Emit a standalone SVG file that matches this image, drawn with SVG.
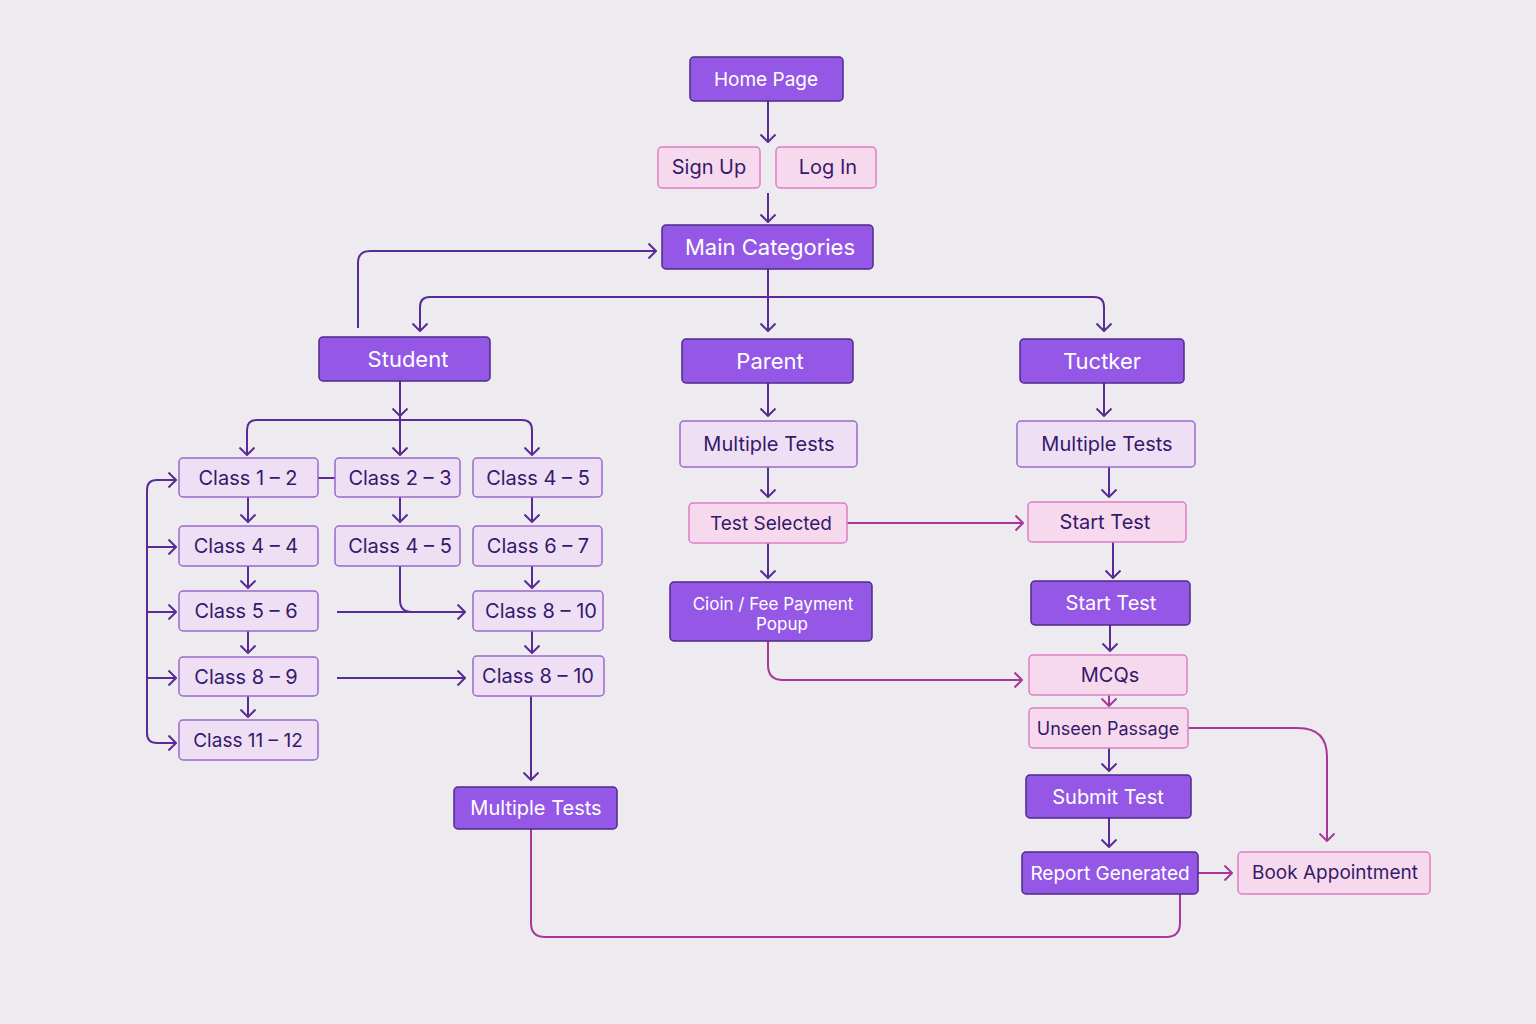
<svg xmlns="http://www.w3.org/2000/svg" width="1536" height="1024" viewBox="0 0 1536 1024">
<defs>
<marker id="ad" viewBox="0 0 9 16" refX="8" refY="8" markerWidth="9" markerHeight="16" markerUnits="userSpaceOnUse" orient="auto"><path d="M0.5,0.5 L8,8 L0.5,15.5" fill="none" stroke="#5a2a96" stroke-width="2"/></marker>
<marker id="ap" viewBox="0 0 9 16" refX="8" refY="8" markerWidth="9" markerHeight="16" markerUnits="userSpaceOnUse" orient="auto"><path d="M0.5,0.5 L8,8 L0.5,15.5" fill="none" stroke="#a8379a" stroke-width="2"/></marker>
</defs>
<style>
.dark rect{fill:#9558e6;stroke:#4f2a8a;stroke-width:1.5}
.light rect{fill:#eedff5;stroke:#9a6acc;stroke-width:1.5}
.pink rect{fill:#f7d9ee;stroke:#de7dc4;stroke-width:1.5}
text{font-family:Inter,"Noto Sans","Liberation Sans",sans-serif;text-anchor:middle;dominant-baseline:central}
.dark text{fill:#ffffff}
.light text,.pink text{fill:#35196b}
.cd{fill:none;stroke:#5a2a96;stroke-width:2;marker-end:url(#ad)}
.cp{fill:none;stroke:#a8379a;stroke-width:2;marker-end:url(#ap)}
.ln{fill:none;stroke:#5a2a96;stroke-width:2}
.lp{fill:none;stroke:#a8379a;stroke-width:2}
</style>
<rect width="1536" height="1024" fill="#eeebf0"/>

<g id="connectors">
<path class="cd" d="M768,101 V142"/>
<path class="cd" d="M768,193 V222"/>
<path class="cd" d="M358,328 V263 Q358,251 370,251 H656"/>
<path class="cd" d="M768,269 V331"/>
<path class="cd" d="M768,297 H1094 Q1104,297 1104,307 V331"/>
<path class="cd" d="M768,297 H430 Q420,297 420,307 V331"/>
<path class="cd" d="M400,381 V416"/>
<path class="cd" d="M400,420 H257 Q247,420 247,430 V455"/>
<path class="cd" d="M400,420 H522 Q532,420 532,430 V455"/>
<path class="cd" d="M400,416 V455"/>
<path class="ln" d="M318,478 H335"/>
<path class="cd" d="M248,497 V522"/>
<path class="cd" d="M248,566 V588"/>
<path class="cd" d="M248,631 V653"/>
<path class="cd" d="M248,696 V717"/>
<path class="cd" d="M400,497 V522"/>
<path class="cd" d="M532,497 V522"/>
<path class="cd" d="M532,566 V588"/>
<path class="cd" d="M532,631 V653"/>
<path class="cd" d="M147,620 V490 Q147,480 157,480 H176"/>
<path class="cd" d="M147,600 V733 Q147,743 157,743 H176"/>
<path class="cd" d="M147,547 H176"/>
<path class="cd" d="M147,612 H176"/>
<path class="cd" d="M147,678 H176"/>
<path class="cd" d="M337,612 H465"/>
<path class="ln" d="M400,566 V600 Q400,612 412,612 H440"/>
<path class="cd" d="M337,678 H465"/>
<path class="cd" d="M531,696 V780"/>
<path class="lp" d="M531,829 V923 Q531,937 545,937 H1166 Q1180,937 1180,923 V894"/>
<path class="cd" d="M768,383 V416"/>
<path class="cd" d="M768,467 V497"/>
<path class="cd" d="M768,543 V578"/>
<path class="cp" d="M847,523 H1023"/>
<path class="cp" d="M768,641 V665 Q768,680 783,680 H1022"/>
<path class="cd" d="M1104,383 V416"/>
<path class="cd" d="M1109,467 V497"/>
<path class="cd" d="M1113,542 V578"/>
<path class="cd" d="M1110,625 V651"/>
<path class="cp" d="M1109,695 V706"/>
<path class="cd" d="M1109,748 V771"/>
<path class="cd" d="M1109,818 V847"/>
<path class="cp" d="M1198,873 H1232"/>
<path class="cp" d="M1188,728 H1298 Q1327,728 1327,757 V841"/>
</g>

<g id="home" class="dark"><rect x="690" y="57" width="153" height="44" rx="4"/><text x="766" y="79" font-size="19">Home Page</text></g>
<g id="signup" class="pink"><rect x="658" y="147" width="102" height="41" rx="4"/><text x="709" y="167" font-size="20">Sign Up</text></g>
<g id="login" class="pink"><rect x="776" y="147" width="100" height="41" rx="4"/><text x="828" y="167" font-size="20">Log In</text></g>
<g id="main" class="dark"><rect x="662" y="225" width="211" height="44" rx="4"/><text x="770" y="247" font-size="22">Main Categories</text></g>
<g id="student" class="dark"><rect x="319" y="337" width="171" height="44" rx="4"/><text x="408" y="359" font-size="22">Student</text></g>
<g id="parent" class="dark"><rect x="682" y="339" width="171" height="44" rx="4"/><text x="770" y="361" font-size="22">Parent</text></g>
<g id="tuctker" class="dark"><rect x="1020" y="339" width="164" height="44" rx="4"/><text x="1102" y="361" font-size="22">Tuctker</text></g>

<g id="c12" class="light"><rect x="179" y="458" width="139" height="39" rx="4"/><text x="248" y="478" font-size="20">Class 1 – 2</text></g>
<g id="c23" class="light"><rect x="335" y="458" width="125" height="39" rx="4"/><text x="400" y="478" font-size="20">Class 2 – 3</text></g>
<g id="c45a" class="light"><rect x="473" y="458" width="129" height="39" rx="4"/><text x="538" y="478" font-size="20">Class 4 – 5</text></g>
<g id="c44" class="light"><rect x="179" y="526" width="139" height="40" rx="4"/><text x="246" y="546" font-size="20">Class 4 – 4</text></g>
<g id="c45b" class="light"><rect x="335" y="526" width="125" height="40" rx="4"/><text x="400" y="546" font-size="20">Class 4 – 5</text></g>
<g id="c67" class="light"><rect x="473" y="526" width="129" height="40" rx="4"/><text x="538" y="546" font-size="20">Class 6 – 7</text></g>
<g id="c56" class="light"><rect x="179" y="591" width="139" height="40" rx="4"/><text x="246" y="611" font-size="20">Class 5 – 6</text></g>
<g id="c810a" class="light"><rect x="473" y="591" width="130" height="40" rx="4"/><text x="541" y="611" font-size="20">Class 8 – 10</text></g>
<g id="c89" class="light"><rect x="179" y="657" width="139" height="39" rx="4"/><text x="246" y="677" font-size="20">Class 8 – 9</text></g>
<g id="c810b" class="light"><rect x="473" y="656" width="131" height="40" rx="4"/><text x="538" y="676" font-size="20">Class 8 – 10</text></g>
<g id="c1112" class="light"><rect x="179" y="720" width="139" height="40" rx="4"/><text x="248" y="740" font-size="19">Class 11 – 12</text></g>
<g id="smt" class="dark"><rect x="454" y="787" width="163" height="42" rx="4"/><text x="536" y="808" font-size="20">Multiple Tests</text></g>

<g id="pmt" class="light"><rect x="680" y="421" width="177" height="46" rx="4"/><text x="769" y="444" font-size="20">Multiple Tests</text></g>
<g id="pts" class="pink"><rect x="689" y="503" width="158" height="40" rx="4"/><text x="771" y="523" font-size="19">Test Selected</text></g>
<g id="coin" class="dark"><rect x="670" y="582" width="202" height="59" rx="4"/><text x="773" y="604" font-size="17">Cioin / Fee Payment</text><text x="782" y="624" font-size="17">Popup</text></g>

<g id="tmt" class="light"><rect x="1017" y="421" width="178" height="46" rx="4"/><text x="1107" y="444" font-size="20">Multiple Tests</text></g>
<g id="tst1" class="pink"><rect x="1028" y="502" width="158" height="40" rx="4"/><text x="1105" y="522" font-size="20">Start Test</text></g>
<g id="tst2" class="dark"><rect x="1031" y="581" width="159" height="44" rx="4"/><text x="1111" y="603" font-size="20">Start Test</text></g>
<g id="mcq" class="pink"><rect x="1029" y="655" width="158" height="40" rx="4"/><text x="1110" y="675" font-size="20">MCQs</text></g>
<g id="unseen" class="pink"><rect x="1029" y="708" width="159" height="40" rx="4"/><text x="1108" y="728" font-size="18">Unseen Passage</text></g>
<g id="submit" class="dark"><rect x="1026" y="775" width="165" height="43" rx="4"/><text x="1108" y="797" font-size="20">Submit Test</text></g>
<g id="report" class="dark"><rect x="1022" y="852" width="176" height="42" rx="4"/><text x="1110" y="873" font-size="19">Report Generated</text></g>
<g id="book" class="pink"><rect x="1238" y="852" width="192" height="42" rx="4"/><text x="1335" y="872" font-size="19">Book Appointment</text></g>
</svg>
